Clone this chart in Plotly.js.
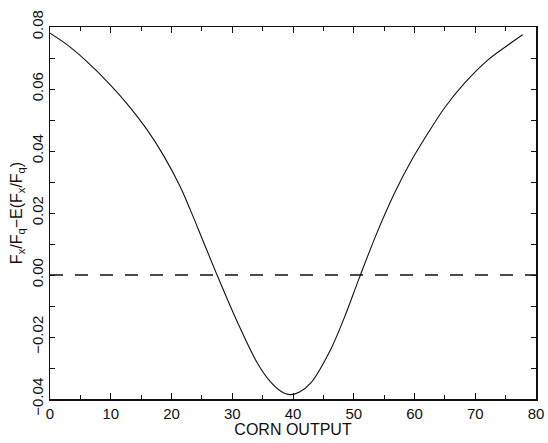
<!DOCTYPE html>
<html>
<head>
<meta charset="utf-8">
<script src="https://cdn.plot.ly/plotly-3.0.1.min.js"></script>
<style>html,body{margin:0;padding:0;background:#fff;}#chart{width:548px;height:443px;}</style>
</head>
<body>
<div id="chart"></div>
<script>
// Corn output (x) and Fx/Fq - E(Fx/Fq) (y)
const cornOutput = [0, 3, 6, 10, 13, 16, 18.7, 21.3, 23.1, 25.3, 27.5, 30.8, 34.1, 36.3, 38, 39.5, 41, 42.9, 46.2, 48.4, 50.9, 53.9, 56.7, 59.4, 62.2, 64.9, 68.2, 72.1, 75.4, 77.8];
const deviation  = [0.078, 0.0740, 0.0690, 0.0612, 0.0545, 0.0468, 0.0385, 0.0290, 0.0210, 0.0105, 0.0000, -0.0150, -0.0283, -0.0345, -0.0375, -0.0386, -0.0378, -0.0349, -0.0240, -0.0140, -0.0010, 0.0140, 0.0264, 0.0366, 0.0457, 0.0538, 0.0618, 0.0694, 0.0742, 0.0775];
const zeroLineX = [0, 80];
const zeroLineY = [0, 0];
const xTicks = [0, 10, 20, 30, 40, 50, 60, 70, 80];
const yTicks = [-0.04, -0.02, 0.00, 0.02, 0.04, 0.06, 0.08];

const font = {family: 'Liberation Sans, Arial, sans-serif', color: '#111', size: 15};

const traces = [
  {x: zeroLineX, y: zeroLineY, mode: 'lines', line: {color: '#111', width: 1.3, dash: '13px,12px'}, hoverinfo: 'skip', showlegend: false},
  {x: cornOutput, y: deviation, mode: 'lines', line: {color: '#111', width: 1.1, shape: 'spline', smoothing: 1}, showlegend: false}
];

const layout = {
  width: 548, height: 443,
  margin: {l: 50, r: 12, t: 27, b: 44},
  paper_bgcolor: '#fff', plot_bgcolor: '#fff',
  font: font,
  showlegend: false,
  xaxis: {
    range: [0, 80], tickvals: xTicks, ticks: 'inside', ticklen: 6, tickwidth: 1, tickcolor: '#111',
    minor: {dtick: 5, ticks: 'inside', ticklen: 4, tickcolor: '#111', showgrid: false},
    showline: true, linecolor: '#111', linewidth: 1.5, mirror: 'ticks',
    showgrid: false, zeroline: false,
    tickfont: {family: font.family, size: 15, color: '#111'},
    title: {text: 'CORN OUTPUT', font: {family: font.family, size: 16, color: '#111'}, standoff: 2}
  },
  yaxis: {
    range: [-0.04, 0.08], tickvals: yTicks, tickformat: '.2f', tickangle: -90,
    ticks: 'inside', ticklen: 5, tickwidth: 1, tickcolor: '#111',
    minor: {dtick: 0.01, ticks: 'inside', ticklen: 5, tickcolor: '#111', showgrid: false},
    showline: true, linecolor: '#111', linewidth: 1.5, mirror: 'ticks',
    showgrid: false, zeroline: false,
    tickfont: {family: font.family, size: 15, color: '#111'},
    title: {text: 'F<sub>x</sub>/F<sub>q</sub>−E(F<sub>x</sub>/F<sub>q</sub>)', font: {family: font.family, size: 16, color: '#111'}, standoff: 2}
  }
};

Plotly.newPlot('chart', traces, layout, {displayModeBar: false, staticPlot: true});
</script>
</body>
</html>
